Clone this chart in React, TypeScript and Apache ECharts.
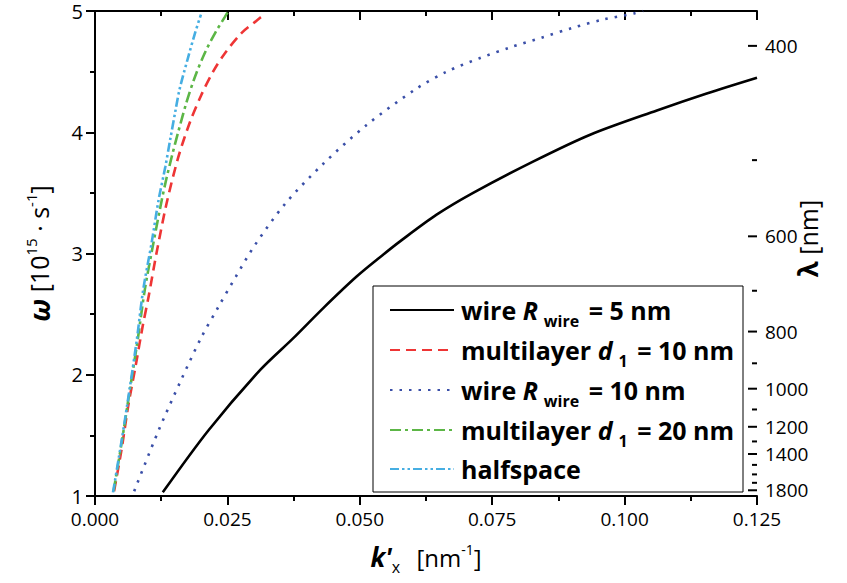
import React, { useEffect, useRef } from "react";
import * as echarts from "echarts";

const FONT = "Open Sans";
const X_MIN = 0;
const X_MAX = 0.125;
const X_STEP = 0.025;
const Y_MIN = 1;
const Y_MAX = 5;
const Y_STEP = 1;
// lambda [nm] = 2*pi*c / omega, omega in 1e15 s^-1
const LAMBDA_FACTOR = 1884.96;

const wire5K = [0.0128, 0.0214, 0.0312, 0.0374, 0.0431, 0.0494, 0.0544, 0.0576, 0.0645, 0.0714, 0.0828, 0.0935, 0.1061, 0.1155, 0.125];
const wire5W = [1.03, 1.54, 2.04, 2.30, 2.55, 2.81, 2.99, 3.10, 3.32, 3.50, 3.76, 3.98, 4.18, 4.32, 4.45];

const multi10K = [0.0036, 0.0050, 0.0063, 0.0077, 0.0090, 0.0101, 0.0116, 0.0135, 0.0157, 0.0179, 0.0201, 0.0223, 0.0245, 0.0277, 0.0305, 0.0322];
const multi10W = [1.04, 1.38, 1.75, 2.08, 2.40, 2.64, 3.00, 3.41, 3.79, 4.08, 4.31, 4.50, 4.65, 4.82, 4.92, 4.98];

const wire10K = [0.0074, 0.0120, 0.0164, 0.0201, 0.0233, 0.0266, 0.0302, 0.0359, 0.0431, 0.0513, 0.0607, 0.0664, 0.0726, 0.0784, 0.0843, 0.0901, 0.0960, 0.1018, 0.1035];
const wire10W = [1.04, 1.54, 1.97, 2.31, 2.56, 2.81, 3.07, 3.41, 3.74, 4.06, 4.36, 4.50, 4.61, 4.70, 4.78, 4.86, 4.93, 4.98, 5.0];

const multi20K = [0.0035, 0.0050, 0.0066, 0.0080, 0.0094, 0.0110, 0.0126, 0.0135, 0.0145, 0.0157, 0.0173, 0.0189, 0.0208, 0.0227, 0.0245, 0.0252];
const multi20W = [1.04, 1.43, 1.88, 2.27, 2.70, 3.08, 3.44, 3.62, 3.80, 4.00, 4.25, 4.46, 4.66, 4.82, 4.95, 5.0];

const halfK = [0.0034, 0.0050, 0.0066, 0.0079, 0.0091, 0.0107, 0.0120, 0.0133, 0.0142, 0.0152, 0.0160, 0.0176, 0.0189, 0.0200];
const halfW = [1.03, 1.45, 1.90, 2.29, 2.70, 3.09, 3.44, 3.72, 3.94, 4.18, 4.36, 4.62, 4.82, 4.97];

const lambdaTicks = [400, 500, 600, 700, 800, 900, 1000, 1100, 1200, 1300, 1400, 1500, 1600, 1700, 1800];
const lambdaLabels = [400, 600, 800, 1000, 1200, 1400, 1800];

const seriesNames = ["wire5", "multi10", "wire10", "multi20", "half"];
const legendTexts: Record<string, string> = {
  wire5: "wire {i|R}{sub|wire} = 5 nm",
  multi10: "multilayer {i|d}{sub|1} = 10 nm",
  wire10: "wire {i|R}{sub|wire} = 10 nm",
  multi20: "multilayer {i|d}{sub|1} = 20 nm",
  half: "halfspace",
};

const zip = (a: number[], b: number[]) => a.map((v, i) => [v, b[i]]);

export default function App() {
  const ref = useRef<HTMLDivElement>(null);
  useEffect(() => {
    document.body.style.margin = "0";
    const chart = echarts.init(ref.current!, null, { renderer: "svg" });
    const lineSeries = (name: string, data: number[][], color: string, type: any) => ({
      name,
      type: "line",
      data,
      symbol: "none",
      showSymbol: false,
      smooth: 0.3,
      lineStyle: { color, width: 2.6, type },
      itemStyle: { color },
      z: 3,
    });
    const option: any = {
      animation: false,
      backgroundColor: "#fff",
      textStyle: { fontFamily: FONT },
      grid: { left: 95, right: 90, top: 11, bottom: 87 },
      legend: {
        data: seriesNames,
        orient: "vertical",
        left: 373,
        top: 286,
        itemWidth: 64,
        itemHeight: 14,
        itemGap: 2,
        padding: [5, 9, 5, 16],
        borderColor: "#000",
        borderWidth: 1,
        backgroundColor: "#fff",
        selectedMode: false,
        itemStyle: { opacity: 0 },
        formatter: (n: string) => legendTexts[n],
        textStyle: {
          fontFamily: FONT,
          fontSize: 25,
          fontWeight: "bold",
          color: "#000",
          lineHeight: 36,
          padding: [0, 0, 0, 2],
          rich: {
            i: { fontFamily: FONT, fontSize: 25, fontWeight: "bold", fontStyle: "italic", color: "#000" },
            sub: { fontFamily: FONT, fontSize: 16, fontWeight: "bold", color: "#000", lineHeight: 14, padding: [22, 3, 0, 6] },
          },
        },
      },
      xAxis: [
        {
          type: "value",
          min: X_MIN,
          max: X_MAX,
          interval: X_STEP,
          position: "bottom",
          axisLine: { lineStyle: { color: "#000", width: 2 } },
          axisTick: { inside: false, length: 9, lineStyle: { width: 2, color: "#000" } },
          minorTick: { show: true, splitNumber: 2, length: 5, lineStyle: { width: 2, color: "#000" } },
          splitLine: { show: false },
          axisLabel: { formatter: (v: number) => v.toFixed(3), fontSize: 19, lineHeight: 20, color: "#000", fontFamily: FONT, margin: 13 },
          name: "{bi|k'}{sub|x} [nm{sup|-1}]",
          nameLocation: "middle",
          nameGap: 43,
          nameTextStyle: {
            fontFamily: FONT,
            fontSize: 24,
            color: "#000",
            rich: {
              bi: { fontFamily: FONT, fontSize: 26, fontWeight: "bold", fontStyle: "italic", color: "#000" },
              sub: { fontFamily: FONT, fontSize: 16, color: "#000", padding: [20, 10, 0, 0] },
              sup: { fontFamily: FONT, fontSize: 14, color: "#000", padding: [0, 0, 16, 0] },
            },
          },
        },
        {
          type: "value",
          min: X_MIN,
          max: X_MAX,
          interval: X_STEP,
          position: "top",
          axisLine: { lineStyle: { color: "#000", width: 2 } },
          axisTick: { inside: true, length: 9, lineStyle: { width: 2, color: "#000" } },
          minorTick: { show: true, splitNumber: 2, length: 5, lineStyle: { width: 2, color: "#000" } },
          splitLine: { show: false },
          axisLabel: { show: false },
        },
      ],
      yAxis: [
        {
          type: "value",
          min: Y_MIN,
          max: Y_MAX,
          interval: Y_STEP,
          position: "left",
          axisLine: { show: true, lineStyle: { color: "#000", width: 2 } },
          axisTick: { show: true, inside: false, length: 9, lineStyle: { width: 2, color: "#000" } },
          minorTick: { show: true, splitNumber: 2, length: 5, lineStyle: { width: 2, color: "#000" } },
          splitLine: { show: false },
          axisLabel: { fontSize: 20, lineHeight: 20, color: "#000", fontFamily: FONT, margin: 12 },
          name: "{bi|ω} [10{sup|15} · s{sup|-1}]",
          nameLocation: "middle",
          nameRotate: 90,
          nameGap: 41,
          nameTextStyle: {
            fontFamily: FONT,
            fontSize: 25,
            color: "#000",
            rich: {
              bi: { fontFamily: FONT, fontSize: 28, fontWeight: "bold", fontStyle: "italic", color: "#000" },
              sup: { fontFamily: FONT, fontSize: 15, color: "#000", padding: [0, 0, 16, 0] },
            },
          },
        },
        {
          type: "value",
          min: Y_MIN,
          max: Y_MAX,
          interval: Y_STEP,
          position: "right",
          axisLine: { show: true, lineStyle: { color: "#000", width: 2 } },
          axisTick: { show: false },
          splitLine: { show: false },
          axisLabel: { show: false },
          name: "{b|λ} [nm]",
          nameLocation: "middle",
          nameRotate: 90,
          nameGap: 38,
          nameTextStyle: {
            fontFamily: FONT,
            fontSize: 25,
            color: "#000",
            padding: [0, 0, 0, 30],
            rich: { b: { fontFamily: FONT, fontSize: 26, fontWeight: "bold", color: "#000" } },
          },
        },
      ],
      series: [
        lineSeries("wire5", zip(wire5K, wire5W), "#000000", "solid"),
        lineSeries("multi10", zip(multi10K, multi10W), "#ee3535", [10, 6]),
        lineSeries("wire10", zip(wire10K, wire10W), "#3a4fa8", [2.5, 7]),
        lineSeries("multi20", zip(multi20K, multi20W), "#5cb646", [11, 4, 3, 4]),
        lineSeries("half", zip(halfK, halfW), "#46aee2", [9, 3, 2.5, 3, 2.5, 3]),
        {
          type: "custom",
          name: "lambdaAxis",
          silent: true,
          clip: false,
          z: 5,
          data: lambdaTicks.map((l) => [X_MAX, LAMBDA_FACTOR / l, l]),
          renderItem: (params: any, api: any) => {
            const p = api.coord([api.value(0), api.value(1)]);
            const lam = api.value(2);
            const major = lambdaLabels.indexOf(lam) >= 0;
            const len = major ? 9 : 5;
            const children: any[] = [
              {
                type: "line",
                shape: { x1: p[0] - len, y1: p[1], x2: p[0], y2: p[1] },
                style: { stroke: "#000", lineWidth: 2 },
              },
            ];
            if (major) {
              children.push({
                type: "text",
                x: p[0] + 8,
                y: p[1],
                style: {
                  text: String(lam),
                  fontSize: 19,
                  fontFamily: FONT,
                  fill: "#000",
                  align: "left",
                  verticalAlign: "middle",
                },
              });
            }
            return { type: "group", children };
          },
        },
      ],
    };
    chart.setOption(option);
    return () => chart.dispose();
  }, []);
  return <div ref={ref} style={{ width: 847, height: 583 }} />;
}
